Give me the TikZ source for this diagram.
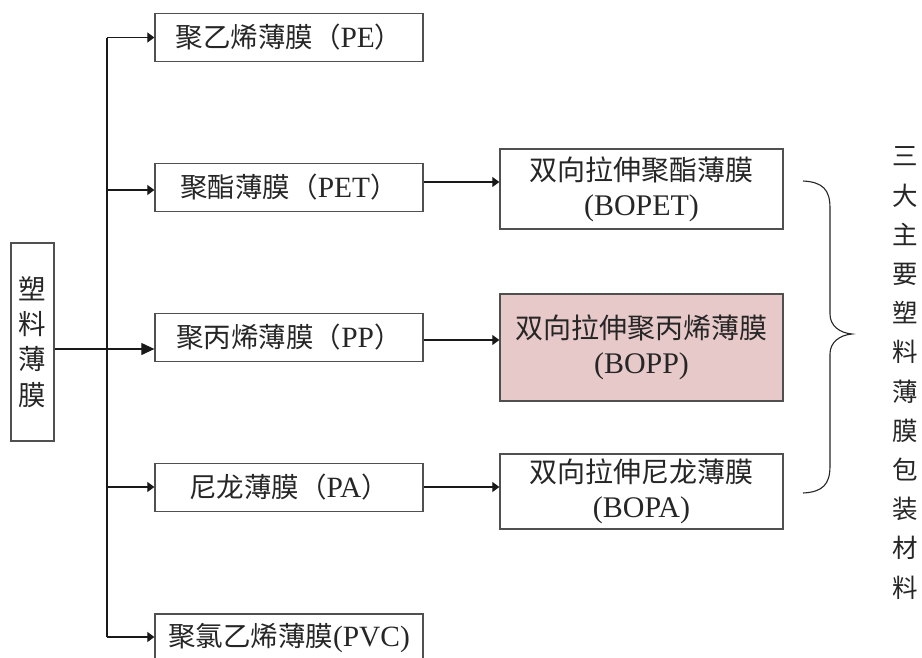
\documentclass[tikz,border=0pt]{standalone}
\usepackage{fontspec}
\setmainfont{Liberation Serif}[Scale=1.07]
\newfontfamily\cjk{Noto Sans CJK SC}
\usetikzlibrary{arrows.meta}
\newcommand{\zh}[1]{{\cjk #1}}
\definecolor{boxline}{HTML}{505050}
\definecolor{txt}{HTML}{262626}
\definecolor{pinkfill}{HTML}{E8C9C9}
\tikzset{
  box/.style={draw=boxline, line width=1.3pt, fill=white, inner sep=0pt, text=txt,
    font=\fontsize{27.5}{35}\selectfont, align=center},
  lbox/.style={box, minimum width=268pt, minimum height=48pt},
  rbox/.style={box, minimum width=283pt, font=\fontsize{28}{35}\selectfont},
  conn/.style={draw=black!90, line width=1.1pt},
  sarrow/.style={conn, -{Triangle[length=7pt,width=10pt]}},
  barrow/.style={conn, -{Triangle[length=13pt,width=12pt]}},
}
\begin{document}
\begin{tikzpicture}[x=1pt,y=-1pt]
\useasboundingbox[fill=white] (0,0) rectangle (922,657);
% nodes
\node[box, minimum width=43pt, minimum height=198pt, font=\fontsize{27.5}{35.3}\selectfont] (lb) at (32.5,342) {\zh{塑}\\\zh{料}\\\zh{薄}\\\zh{膜}};
\node[lbox] (pe) at (289,37.5) {\zh{聚乙烯薄膜（}PE\zh{）}};
\node[lbox] (pet) at (289,187.5) {\zh{聚酯薄膜（}PET\zh{）}};
\node[lbox] (pp) at (289,337.5) {\zh{聚丙烯薄膜（}PP\zh{）}};
\node[lbox] (pa) at (289,487.5) {\zh{尼龙薄膜（}PA\zh{）}};
\node[lbox] (pvc) at (289,638) {\zh{聚氯乙烯薄膜}(PVC)};
\node[rbox, minimum height=80pt] (bopet) at (641.5,189) {\zh{双向拉伸聚酯薄膜}\\(BOPET)};
\node[rbox, minimum height=107pt, fill=pinkfill] (bopp) at (641.5,347.5) {\zh{双向拉伸聚丙烯薄膜}\\(BOPP)};
\node[rbox, minimum height=75pt] (bopa) at (641.5,491.5) {\zh{双向拉伸尼龙薄膜}\\(BOPA)};
\node[text=txt, align=center, inner sep=0pt, font=\fontsize{25.5}{39.2}\selectfont] (side) at (905,373) {\zh{三}\\\zh{大}\\\zh{主}\\\zh{要}\\\zh{塑}\\\zh{料}\\\zh{薄}\\\zh{膜}\\\zh{包}\\\zh{装}\\\zh{材}\\\zh{料}};
% trunk coordinates
\coordinate (t1) at (107,37.5);
\coordinate (t2) at (107,190);
\coordinate (m) at (107,349);
\coordinate (t4) at (107,487);
\coordinate (t5) at (107,637);
\draw[conn] (t1) -- (t5);
\draw[sarrow] (t1) -- (pe.west |- t1);
\draw[sarrow] (t2) -- (pet.west |- t2);
\draw[barrow] (lb.east |- m) -- (pp.west |- m);
\draw[sarrow] (t4) -- (pa.west |- t4);
\draw[sarrow] (t5) -- (pvc.west |- t5);
% right arrows
\coordinate (r1) at (500,182);
\coordinate (r2) at (500,340);
\coordinate (r3) at (500,487);
\draw[sarrow] (pet.east |- r1) -- (bopet.west |- r1);
\draw[sarrow] (pp.east |- r2) -- (bopp.west |- r2);
\draw[sarrow] (pa.east |- r3) -- (bopa.west |- r3);
% brace
\draw[draw=black!85, line width=1.1pt] (803,181) .. controls (823,182) and (830,190) .. (830,208)
  -- (830,314) .. controls (830,326) and (840,333) .. (852,334)
  .. controls (840,335) and (830,342) .. (830,354)
  -- (830,466) .. controls (830,484) and (823,492) .. (803,493);
\end{tikzpicture}
\end{document}
